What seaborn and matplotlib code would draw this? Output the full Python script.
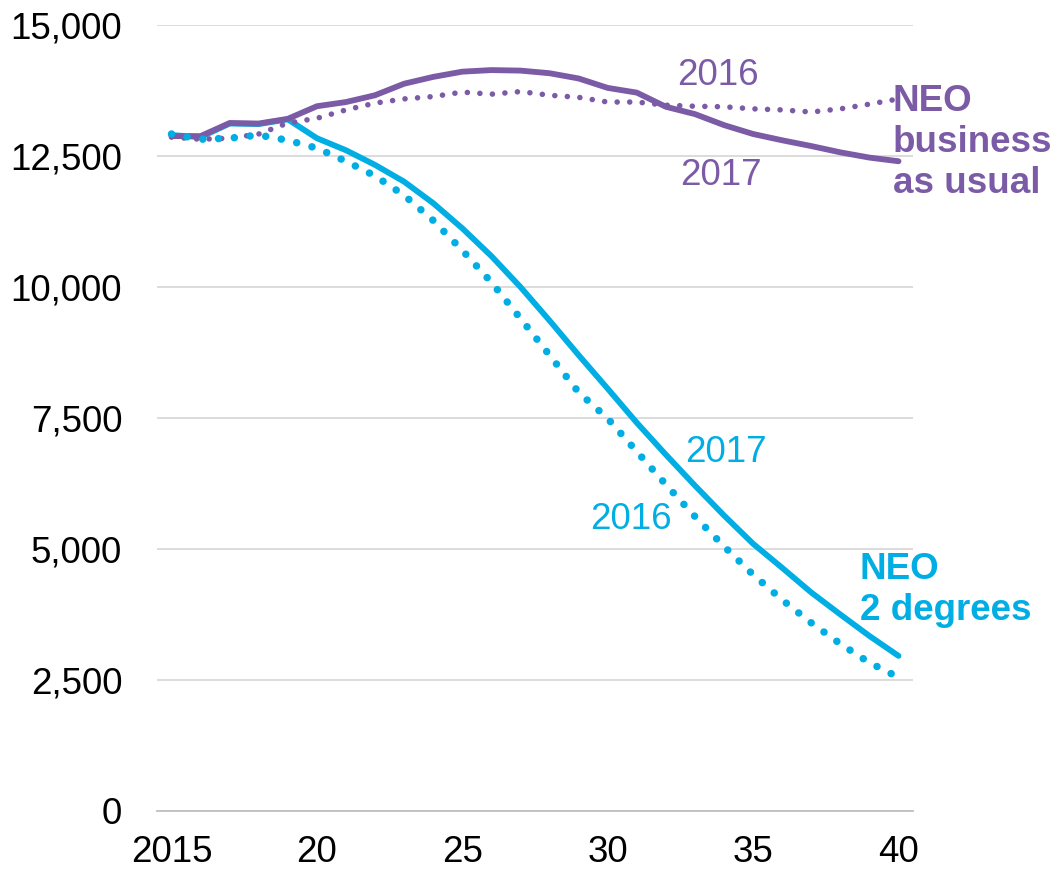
import numpy as np
import pandas as pd
import matplotlib
matplotlib.use("Agg")
import matplotlib.pyplot as plt
import seaborn as sns
from matplotlib.ticker import FixedLocator, FuncFormatter

years = list(range(2015, 2041))

# NEO business as usual
bau_2017 = [12880, 12880, 13130, 13120, 13210, 13450, 13530, 13660, 13880, 14010,
            14110, 14140, 14130, 14080, 13980, 13800, 13710, 13440, 13300, 13090,
            12920, 12800, 12690, 12570, 12470, 12400]
bau_2016 = [12860, 12820, 12840, 12920, 13130, 13220, 13380, 13510, 13590, 13635,
            13720, 13680, 13730, 13660, 13620, 13530, 13530, 13470, 13450, 13440,
            13400, 13380, 13340, 13400, 13490, 13590]

# NEO 2 degrees
deg2_2017 = [12900, 12860, 13120, 13110, 13200, 12840, 12610, 12330, 12010, 11600,
             11120, 10590, 10000, 9360, 8700, 8060, 7410, 6800, 6210, 5640,
             5100, 4640, 4170, 3750, 3340, 2960]
deg2_2016 = [12920, 12820, 12840, 12900, 12800, 12650, 12400, 12120, 11750, 11270,
             10700, 10090, 9400, 8700, 7990, 7490, 6860, 6230, 5620, 5050,
             4510, 4030, 3590, 3190, 2830, 2550]

x_ticks = [2015, 2020, 2025, 2030, 2035, 2040]
x_labels = ["2015", "20", "25", "30", "35", "40"]
y_ticks = [0, 2500, 5000, 7500, 10000, 12500, 15000]

purple = "#7B5BA6"
cyan = "#00AEE4"

sns.set_style("white")
plt.rcParams["font.family"] = ["Liberation Sans", "DejaVu Sans"]

fig = plt.figure(figsize=(10.57, 8.72), dpi=100)
ax = fig.add_axes([0.1485, 0.0700, 0.7153, 0.9013])

df = pd.DataFrame({"year": years, "bau_2017": bau_2017, "bau_2016": bau_2016,
                   "deg2_2017": deg2_2017, "deg2_2016": deg2_2016})

sns.lineplot(data=df, x="year", y="deg2_2017", ax=ax, color=cyan, linewidth=4.2,
             solid_capstyle="round", zorder=3)
sns.lineplot(data=df, x="year", y="bau_2017", ax=ax, color=purple, linewidth=4.2,
             solid_capstyle="round", zorder=4)
sns.lineplot(data=df, x="year", y="bau_2016", ax=ax, color=purple, linewidth=4.0,
             linestyle=(0, (0.01, 2.25)), dash_capstyle="round", zorder=5)
sns.lineplot(data=df, x="year", y="deg2_2016", ax=ax, color=cyan, linewidth=5.4,
             linestyle=(0, (0.01, 2.1)), dash_capstyle="round", zorder=6)

ax.set_xlim(2014.5, 2040.5)
ax.set_ylim(0, 15000)
ax.set_xlabel("")
ax.set_ylabel("")

ax.yaxis.set_major_locator(FixedLocator(y_ticks))
ax.yaxis.set_major_formatter(FuncFormatter(lambda v, p: f"{int(v):,}"))
ax.set_xticks(x_ticks)
ax.set_xticklabels(x_labels)
ax.xaxis.set_minor_locator(FixedLocator(np.arange(2014.5, 2041, 1)))

ax.tick_params(axis="y", length=0, pad=25, labelsize=26.5, labelcolor="black")
ax.tick_params(axis="x", which="major", length=0, pad=17, labelsize=26.5, labelcolor="black")
ax.tick_params(axis="x", which="minor", length=6.5, width=1.2, color="#BFBFBF", direction="out")

ax.grid(axis="y", color="#D9D9D9", linewidth=1.3)
ax.grid(axis="x", visible=False)
ax.set_axisbelow(True)
for s in ["top", "right", "left"]:
    ax.spines[s].set_visible(False)
ax.spines["bottom"].set_color("#BFBFBF")
ax.spines["bottom"].set_linewidth(1.3)

# labels
ax.text(2032.4, 14046, "2016", color=purple, fontsize=26.5, ha="left", va="center")
ax.text(2032.5, 12135, "2017", color=purple, fontsize=26.5, ha="left", va="center")
ax.text(2039.8, 12765, "NEO\nbusiness\nas usual", color=purple, fontsize=26.5,
        fontweight="bold", ha="left", va="center", linespacing=1.22, clip_on=False)
ax.text(2032.65, 6840, "2017", color=cyan, fontsize=26.5, ha="left", va="center")
ax.text(2029.4, 5560, "2016", color=cyan, fontsize=26.5, ha="left", va="center")
ax.text(2038.66, 4225, "NEO\n2 degrees", color=cyan, fontsize=26.5,
        fontweight="bold", ha="left", va="center", linespacing=1.22, clip_on=False)

fig.savefig("out.png", dpi=100)
